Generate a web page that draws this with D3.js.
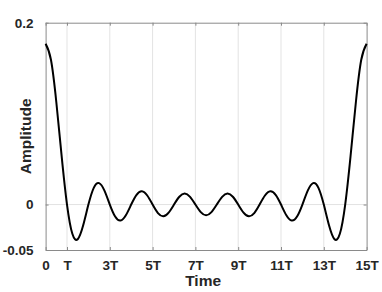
<!DOCTYPE html>
<html>
<head>
<meta charset="utf-8">
<script src="https://cdn.jsdelivr.net/npm/d3@7"></script>
<style>
  html, body { margin: 0; padding: 0; background: #fff; }
  svg { display: block; }
  text { font-family: "Liberation Sans", Arial, Helvetica, sans-serif; font-weight: bold; fill: #262626; }
</style>
</head>
<body>
<svg id="chart" width="382" height="292"></svg>
<script>
// ---- data ----
const timeT = [0,0.25,0.5,0.75,1,1.25,1.5,1.75,2,2.25,2.5,2.75,3,3.25,3.5,3.75,4,4.25,4.5,4.75,5,5.25,5.5,5.75,6,6.25,6.5,6.75,7,7.25,7.5,
  7.75,8,8.25,8.5,8.75,9,9.25,9.5,9.75,10,10.25,10.5,10.75,11,11.25,11.5,11.75,12,12.25,12.5,12.75,13,13.25,13.5,13.75,14,14.25,14.5,14.75,15];
const amplitude = [0.1768,0.1592,0.1128,0.0533,0,-0.0322,-0.0381,-0.0233,0,0.0184,0.0236,0.0153,0,-0.0132,-0.0176,-0.0118,0,0.0107,0.0146,0.0099,0,-0.0094,-0.0129,-0.0089,0,0.0086,0.0121,0.0084,0,-0.0083,-0.0118,
  -0.0083,0,0.0084,0.0121,0.0086,0,-0.0089,-0.0129,-0.0094,0,0.0099,0.0146,0.0107,0,-0.0118,-0.0176,-0.0132,0,0.0153,0.0236,0.0184,0,-0.0233,-0.0381,-0.0322,0,0.0533,0.1128,0.1592,0.1768];
const xTickValues = [0,1,3,5,7,9,11,13,15];
const xTickLabels = ["0","T","3T","5T","7T","9T","11T","13T","15T"];
const yTickValues = [-0.05,0,0.2];
const yTickLabels = ["-0.05","0","0.2"];

// ---- layout ----
const L = 45.6, R = 366.6, T = 22.7, B = 250;
const svg = d3.select("#chart");
const x = d3.scaleLinear().domain([0,15]).range([L,R]);
const y = d3.scaleLinear().domain([-0.05,0.2]).range([B,T]);

// grid
const grid = svg.append("g").attr("stroke","#e3e3e3").attr("stroke-width",1);
grid.selectAll("line.vx").data(xTickValues.slice(1,-1)).join("line")
  .attr("x1",d=>x(d)).attr("x2",d=>x(d)).attr("y1",T).attr("y2",B);
grid.selectAll("line.hy").data([0]).join("line")
  .attr("x1",L).attr("x2",R).attr("y1",d=>y(d)).attr("y2",d=>y(d));

// axes
const axColor = "#8a8a8a";
function styleAxis(g){
  g.select(".domain").attr("stroke",axColor);
  g.selectAll(".tick line").attr("stroke",axColor);
}
const xAxis = svg.append("g").attr("transform",`translate(0,${B})`)
  .call(d3.axisBottom(x).tickValues(xTickValues).tickSizeInner(-3).tickSizeOuter(0).tickPadding(10)
    .tickFormat((d,i)=>xTickLabels[i]));
styleAxis(xAxis);
xAxis.selectAll("text").attr("font-size","13.5px").attr("font-family",null).attr("fill","#262626").attr("dy","0.75em");

const xAxisTop = svg.append("g").attr("transform",`translate(0,${T})`)
  .call(d3.axisTop(x).tickValues(xTickValues).tickSizeInner(-3).tickSizeOuter(0).tickFormat(""));
styleAxis(xAxisTop);

const yAxis = svg.append("g").attr("transform",`translate(${L},0)`)
  .call(d3.axisLeft(y).tickValues(yTickValues).tickSizeInner(-3).tickSizeOuter(0).tickPadding(12)
    .tickFormat((d,i)=>yTickLabels[i]));
styleAxis(yAxis);
yAxis.selectAll("text").attr("font-size","13.5px").attr("font-family",null).attr("fill","#262626");

const yAxisRight = svg.append("g").attr("transform",`translate(${R},0)`)
  .call(d3.axisRight(y).tickValues(yTickValues).tickSizeInner(-3).tickSizeOuter(0).tickFormat(""));
styleAxis(yAxisRight);

// line
const pts = timeT.map((t,i)=>[t, amplitude[i]]);
const line = d3.line().x(d=>x(d[0])).y(d=>y(d[1])).curve(d3.curveNatural);
svg.append("path").datum(pts).attr("d",line)
  .attr("fill","none").attr("stroke","#000").attr("stroke-width",2).attr("stroke-linejoin","round");

// axis labels
svg.append("text").attr("x",(L+R)/2 - 3).attr("y",286).attr("text-anchor","middle")
  .attr("font-size","15.5px").text("Time");
svg.append("text").attr("transform",`translate(31,${(T+B)/2}) rotate(-90)`).attr("text-anchor","middle")
  .attr("font-size","15.5px").text("Amplitude");
</script>
</body>
</html>
